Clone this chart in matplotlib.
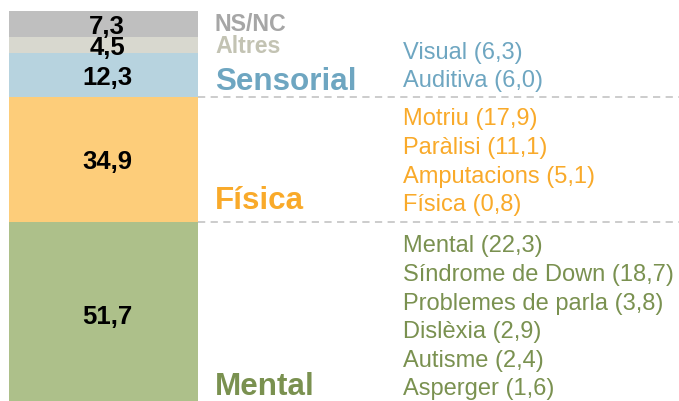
import matplotlib
matplotlib.use("Agg")
import matplotlib.pyplot as plt

plt.rcParams['font.family'] = ['Liberation Sans', 'DejaVu Sans']

# stacked bar, bottom to top
groups = ['Mental', 'Física', 'Sensorial', 'Altres', 'NS/NC']
values = [51.7, 34.9, 12.3, 4.5, 7.3]
bar_colors = ['#adc08a', '#fdcd7a', '#b7d3df', '#d8d8cf', '#bfbfbf']
text_colors = ['#7a9150', '#f9aa2a', '#6ea6c1', '#c3c3b3', '#a6a6a6']

# detail lists per group
sens_items = ['Visual', 'Auditiva']
sens_vals = [6.3, 6.0]
fis_items = ['Motriu', 'Paràlisi', 'Amputacions', 'Física']
fis_vals = [17.9, 11.1, 5.1, 0.8]
ment_items = ['Mental', 'Síndrome de Down', 'Problemes de parla', 'Dislèxia',
              'Autisme', 'Asperger']
ment_vals = [22.3, 18.7, 3.8, 2.9, 2.4, 1.6]

W, H = 679, 401
total = sum(values)
top_px = 11
scale = 396 / total  # px per unit
ytop = total + top_px / scale
ybot = total - (H - top_px) / scale


def py(p):
    # pixel row -> data value
    return ytop - p / scale


fig = plt.figure(figsize=(W / 100, H / 100), dpi=100)
ax = fig.add_axes([0, 0, 1, 1])
ax.set_xlim(0, W)
ax.set_ylim(ybot, ytop)
ax.axis('off')

bottom = 0
for g, v, c in zip(groups, values, bar_colors):
    ax.bar(103.5, v, bottom=bottom, width=189, color=c, linewidth=0)
    ax.text(107, bottom + v / 2, f'{v:.1f}'.replace('.', ','), ha='center',
            va='center_baseline', fontsize=18.5, fontweight='bold', color='black')
    bottom += v

# dashed separators
for b in [values[0], values[0] + values[1]]:
    ax.plot([198, W], [b, b], color='#c8c8c8', lw=1.3, ls=(0, (4, 3)))

# group titles
title_pos = {'NS/NC': (22, 16.7), 'Altres': (44, 16.7), 'Sensorial': (79, 22.6),
             'Física': (198, 22.6), 'Mental': (384, 22.6)}
for g, c in zip(groups, text_colors):
    p, fs = title_pos[g]
    ax.text(215, py(p), g, ha='left', va='center_baseline', fontsize=fs,
            fontweight='bold', color=c)


def fmt(v):
    return f'{v:.1f}'.replace('.', ',')


lists = [(sens_items, sens_vals, 50, text_colors[2]),
         (fis_items, fis_vals, 117, text_colors[1]),
         (ment_items, ment_vals, 244, text_colors[0])]
for items, vals, start, c in lists:
    for i, (n, v) in enumerate(zip(items, vals)):
        ax.text(403, py(start + i * 28.6), f'{n} ({fmt(v)})', ha='left',
                va='center_baseline', fontsize=17, color=c)

fig.savefig('out.png', dpi=100)
